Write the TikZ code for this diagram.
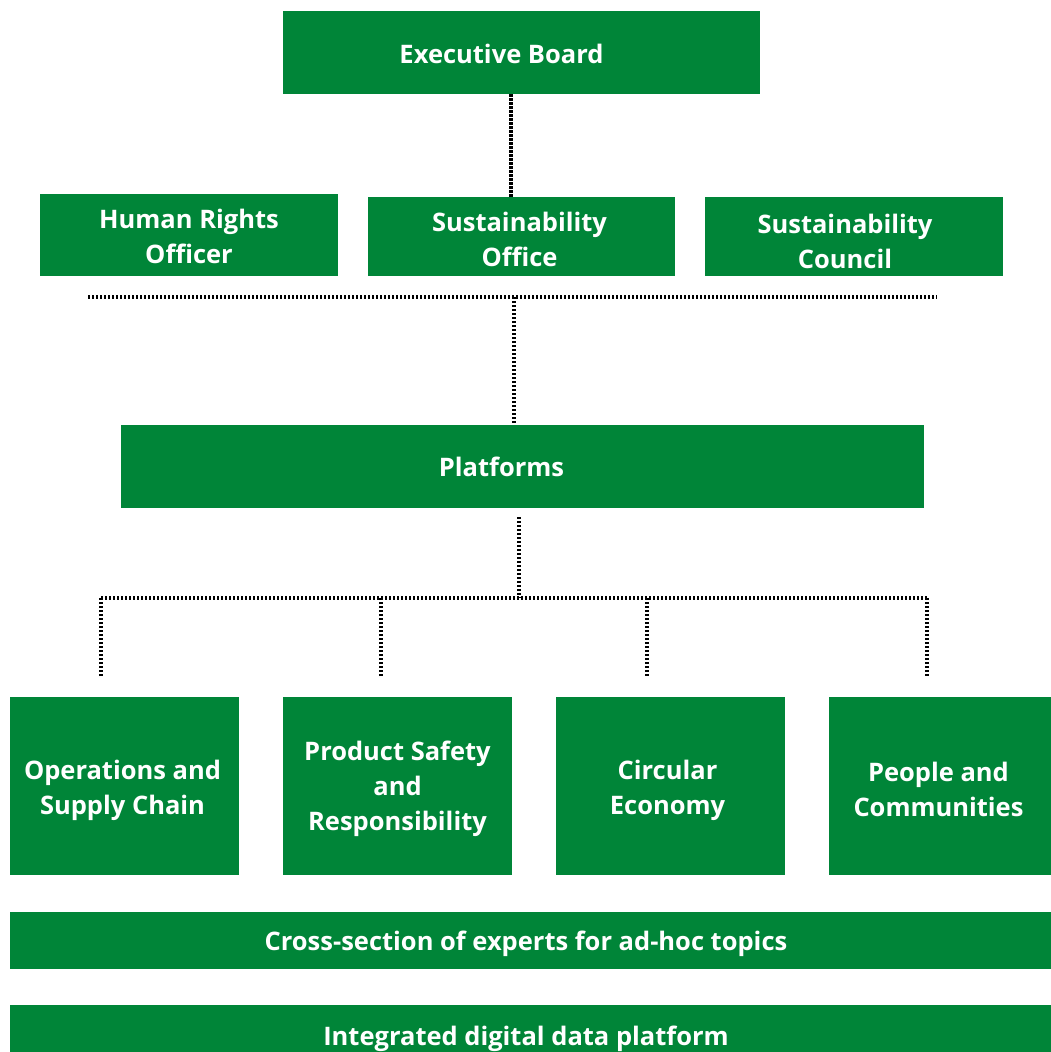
\documentclass[tikz,border=0pt]{standalone}
\usepackage{fontspec}
\setmainfont{Open Sans}
\definecolor{boxgreen}{RGB}{0,133,56}
\begin{document}
\begin{tikzpicture}[x=1pt,y=-1pt,
  gbox/.style={fill=boxgreen, draw=none, inner sep=0pt},
  gtext/.style={text=white, align=center, inner sep=0pt,
    font=\fontsize{25.5}{35}\selectfont\bfseries},
  dotline/.style={draw=black, line width=3.2pt, dash pattern=on 2.4pt off 1.6pt}]
\path[use as bounding box] (0,0) rectangle (1050,1052);
\newcommand{\gboxat}[8]{% name, x1,y1,x2,y2,dx,dy,text
  \node[gbox, minimum width=#4-#2, minimum height=#5-#3,
    label={[gtext, shift={(#6,#7)}]center:#8}] (#1) at ({(#2+#4)/2},{(#3+#5)/2}) {};}
\gboxat{exec}{283}{11}{760}{94}{-20}{1.5}{Executive Board}
\gboxat{hro}{40}{194}{338}{276}{0}{1.5}{Human Rights\\Officer}
\gboxat{so}{368}{197}{675}{276}{-2}{3}{Sustainability\\Office}
\gboxat{sc}{705}{197}{1003}{276}{-9}{5}{Sustainability\\Council}
\gboxat{plat}{121}{425}{924}{508}{-21}{0}{Platforms}
\gboxat{ops}{10}{697}{239}{875}{-2}{4}{Operations and\\Supply Chain}
\gboxat{psr}{283}{697}{512}{875}{0}{3}{Product Safety\\and\\Responsibility}
\gboxat{circ}{556}{697}{785}{875}{-3}{4}{Circular\\Economy}
\gboxat{ppl}{829}{697}{1058}{875}{-5}{3}{People and\\Communities}
\gboxat{cross}{10}{912}{1058}{969}{-8}{3.5}{Cross-section of experts for ad-hoc topics}
\gboxat{idp}{10}{1005}{1058}{1066}{-8}{3}{Integrated digital data platform}
% connectors
\coordinate (hl) at (88,297);
\coordinate (hr) at (937,297);
\coordinate (hm) at (514,297);
\coordinate (pm) at (519,517);
\coordinate (bm) at (519,598);
\coordinate (b1) at (101,598);
\coordinate (b2) at (381,598);
\coordinate (b3) at (647,598);
\coordinate (b4) at (927,598);
\coordinate (e1) at (101,677);
\coordinate (e2) at (381,677);
\coordinate (e3) at (647,677);
\coordinate (e4) at (927,677);
\draw[dotline] (exec.south -| 511,0) -- (so.north -| 511,0);
\draw[dotline] (hl) -- (hr);
\draw[dotline] (hm) -- (plat.north -| hm);
\draw[dotline] (pm) -- (bm);
\draw[dotline] (b1) -- (b4);
\draw[dotline] (b1) -- (e1);
\draw[dotline] (b2) -- (e2);
\draw[dotline] (b3) -- (e3);
\draw[dotline] (b4) -- (e4);
\end{tikzpicture}
\end{document}
